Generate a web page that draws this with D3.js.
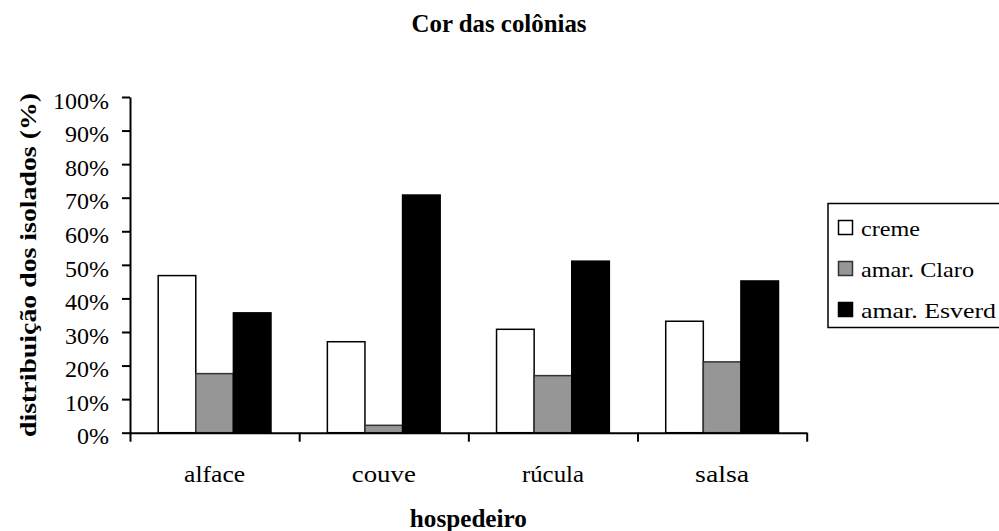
<!DOCTYPE html>
<html>
<head>
<meta charset="utf-8">
<script src="https://cdn.jsdelivr.net/npm/d3@7"></script>
<style>
  html, body { margin: 0; padding: 0; background: #fff; }
  svg { display: block; }
</style>
</head>
<body>
<svg id="chart" width="999" height="531"></svg>
<script>
// ---- data ----
const categories = ["alface", "couve", "rúcula", "salsa"];
const seriesNames = ["creme", "amar. Claro", "amar. Esverd"];
const creme = [46.8, 27.1, 30.8, 33.2];
const amarClaro = [17.6, 2.2, 17.0, 21.1];
const amarEsverd = [35.7, 70.8, 51.1, 45.2];
const yTicks = [0, 10, 20, 30, 40, 50, 60, 70, 80, 90, 100];
const titleText = "Cor das colônias";
const xTitle = "hospedeiro";
const yTitle = "distribuição dos isolados (%)";

(function () {
const FONT = "'Liberation Serif', 'Times New Roman', serif";
const seriesValues = [creme, amarClaro, amarEsverd];
const fills = ["#ffffff", "#969696", "#000000"];
const strokes = ["#000000", "#333333", "#000000"];
const catWidths = [61, 64, 62, 54];

const svg = d3.select("#chart");
const pLeft = 130, pRight = 806.7, pTop = 97, pBottom = 432.7;

const x = d3.scaleBand().domain(categories).range([pLeft, pRight]).padding(0);
const x1 = d3.scaleBand().domain(seriesNames).range([0, x.bandwidth()]).paddingInner(0).paddingOuter(0.75);
const y = d3.scaleLinear().domain([0, 100]).range([pBottom, pTop]);

// bars
const groups = svg.append("g").selectAll("g").data(categories).join("g")
  .attr("transform", d => `translate(${x(d)},0)`);
groups.selectAll("rect")
  .data((c, i) => seriesNames.map((s, j) => ({ s, j, v: seriesValues[j][i] })))
  .join("rect")
  .attr("x", d => x1(d.s))
  .attr("width", x1.bandwidth())
  .attr("y", d => y(d.v))
  .attr("height", d => y(0) - y(d.v))
  .attr("fill", d => fills[d.j])
  .attr("stroke", d => strokes[d.j])
  .attr("stroke-width", 1.5);

// y axis
const yAxis = svg.append("g").attr("transform", `translate(${pLeft},0)`)
  .call(d3.axisLeft(y).tickValues(yTicks).tickFormat(d => d + "%").tickSize(8).tickSizeOuter(0).tickPadding(13));
yAxis.selectAll("path, line").attr("stroke", "#000").attr("stroke-width", 2);
yAxis.selectAll("text").style("font-family", FONT).style("font-size", "24px").attr("fill", "#000").attr("dy", "0.47em");

// x axis: line + boundary ticks
const xb = d3.scaleLinear().domain([0, categories.length]).range([pLeft, pRight]);
const xAxis = svg.append("g").attr("transform", `translate(0,${pBottom})`)
  .call(d3.axisBottom(xb).ticks(categories.length).tickFormat("").tickSize(9).tickSizeOuter(0));
xAxis.selectAll("path, line").attr("stroke", "#000").attr("stroke-width", 2);

// category labels
const xLab = svg.append("g").attr("transform", `translate(0,${pBottom})`)
  .call(d3.axisBottom(x).tickSize(0));
xLab.select(".domain").remove();
xLab.selectAll("text")
  .style("font-family", FONT).style("font-size", "24px").attr("fill", "#000")
  .attr("y", 49).attr("dy", 0)
  .attr("textLength", (d, i) => catWidths[i])
  .attr("lengthAdjust", "spacingAndGlyphs");

// titles
svg.append("text").attr("x", 499).attr("y", 32).attr("text-anchor", "middle")
  .style("font-family", FONT).style("font-size", "25px").style("font-weight", "bold")
  .attr("textLength", 175).attr("lengthAdjust", "spacingAndGlyphs")
  .text(titleText);
svg.append("text").attr("x", (pLeft + pRight) / 2).attr("y", 527).attr("text-anchor", "middle")
  .style("font-family", FONT).style("font-size", "25px").style("font-weight", "bold")
  .attr("textLength", 117).attr("lengthAdjust", "spacingAndGlyphs")
  .text(xTitle);
svg.append("text").attr("transform", `translate(36,${(93 + 437) / 2}) rotate(-90)`)
  .attr("text-anchor", "middle")
  .style("font-family", FONT).style("font-size", "24px").style("font-weight", "bold")
  .attr("textLength", 344).attr("lengthAdjust", "spacingAndGlyphs")
  .text(yTitle);

// legend
const legend = svg.append("g");
legend.append("rect").attr("x", 828).attr("y", 203.5).attr("width", 200).attr("height", 124)
  .attr("fill", "#fff").attr("stroke", "#000").attr("stroke-width", 1.5);
const legWidths = [59, 113, 135];
const li = legend.selectAll("g.item").data(seriesNames).join("g").attr("class", "item")
  .attr("transform", (d, i) => `translate(0,${i * 41})`);
li.append("rect").attr("x", 838.5).attr("y", 220.5).attr("width", 14).attr("height", 14)
  .attr("fill", (d, i) => fills[i]).attr("stroke", (d, i) => strokes[i]).attr("stroke-width", 1.5);
li.append("text").attr("x", 861).attr("y", 236)
  .style("font-family", FONT).style("font-size", "22px")
  .attr("textLength", (d, i) => legWidths[i]).attr("lengthAdjust", "spacingAndGlyphs")
  .text(d => d);
})();
</script>
</body>
</html>
